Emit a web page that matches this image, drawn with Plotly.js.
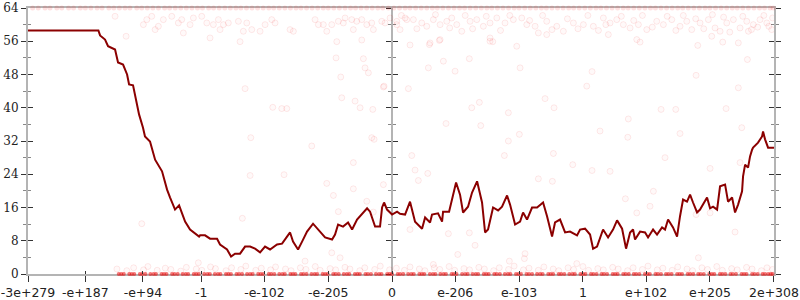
<!DOCTYPE html>
<html>
<head>
<meta charset="utf-8">
<script src="https://cdn.plot.ly/plotly-3.0.1.min.js"></script>
<style>html,body{margin:0;padding:0;background:#fff;}#chart{width:800px;height:300px;}</style>
</head>
<body>
<div id="chart"></div>
<script>
// x axis: signed log-magnitude position of a double (sign * (log10|v| + 308))
const xTickVals = [-587.48, -495, -402, -308, -206, -103, 0, 102, 205, 308, 410, 513, 616.3];
const xTickText = ["-3e+279", "-e+187", "-e+94", "-1", "-e-102", "-e-205", "0", "e-206", "e-103", "1", "e+102", "e+205", "2e+308"];

// moving-average line
const lineX = [-587.5,-473.9,-471.2,-463.2,-458.3,-447.0,-442.2,-434.1,-427.6,-424.4,-418.0,-411.5,-408.3,-401.9,-398.7,-390.6,-387.3,-382.4,-371.2,-363.1,-358.2,-350.2,-343.7,-334.0,-326.0,-321.1,-311.4,-309.8,-301.8,-293.7,-282.4,-277.6,-266.3,-259.8,-253.4,-245.3,-237.2,-229.1,-221.1,-213.0,-205.0,-196.9,-185.6,-177.5,-169.4,-164.6,-159.8,-151.7,-145.2,-137.2,-127.5,-119.4,-108.1,-96.8,-92.0,-87.1,-79.1,-71.0,-64.5,-56.5,-51.6,-40.3,-35.5,-27.4,-19.4,-16.1,-12.9,-8.1,0,8.1,12.9,21.0,29.0,37.1,48.4,53.3,61.3,64.5,74.2,80.7,82.3,92.0,103.3,109.7,114.6,122.6,129.1,137.2,145.2,150.1,154.9,163.0,171.1,177.5,185.6,190.4,198.5,206.6,211.4,217.8,225.9,234.0,243.7,250.1,258.2,263.0,271.1,279.2,287.2,298.5,303.4,311.4,319.5,324.4,330.8,335.6,340.5,348.6,356.6,363.1,371.2,377.6,384.1,388.9,392.1,400.2,408.3,413.1,421.2,427.6,435.7,440.5,445.4,453.4,459.9,464.7,469.6,476.0,480.9,485.7,492.2,497.0,508.3,513.2,518.0,524.5,529.3,537.4,542.2,548.7,553.5,558.4,564.8,566.4,569.7,574.5,577.7,581.0,582.6,590.6,597.1,598.7,601.9,606.8,616.3];
const lineY = [58.6,58.6,57.4,56.4,54.8,54.0,50.9,50.4,48.0,45.6,45.4,40.8,38.4,35.2,33.1,31.9,29.9,27.5,24.7,20.3,18.4,15.5,16.5,12.6,10.7,10.2,9.0,9.3,9.3,8.5,8.5,7.1,5.9,4.2,4.9,4.9,6.6,6.6,6.1,5.2,6.6,5.9,7.1,7.3,9.0,10.0,7.8,5.9,7.8,10.2,12.1,10.7,8.8,8.3,9.5,11.9,11.4,12.4,10.7,13.1,13.9,15.8,15.0,11.4,11.4,16.0,17.2,15.5,14.3,15.0,14.5,14.3,17.4,12.6,10.9,13.6,12.4,14.3,14.6,12.6,15.0,15.0,22.0,19.1,14.8,16.2,19.6,22.3,17.2,10.0,10.7,16.0,15.3,16.2,18.9,16.7,11.9,12.6,14.8,13.1,16.0,16.0,17.2,13.9,9.0,12.4,13.1,10.0,10.2,9.3,10.7,10.9,9.5,6.1,6.6,8.8,10.7,8.8,10.7,12.9,10.9,6.1,10.0,10.7,8.3,10.2,10.0,8.8,10.7,9.5,11.2,10.7,13.1,11.2,9.0,13.9,17.9,17.4,19.1,17.2,14.8,15.5,18.4,15.8,16.2,15.5,21.1,21.5,17.4,18.4,14.8,16.7,19.9,23.5,26.3,25.6,28.3,29.9,30.4,31.6,33.1,34.3,32.4,30.4,30.4];

// scattered individual samples (mid-field)
const scatX = [-237.2,-192.5,-178.0,-169.9,-228.0,-129.6,-229.1,-174.3,-241.6,-403.9,-90.4,-82.8,-81.2,-59.7,-51.6,-43.6,-38.2,-62.5,-32.8,-105.4,-94.7,-62.5,-40.8,-86.7,-30.2,-14.0,-14.0,-89.2,-48.9,-245.3,-293.7,-429.2,-312.6,-83.9,-97.3,-140.4,
 82.8,58.6,101.7,124.7,26.3,128.6,140.9,87.1,143.1,187.7,206.6,246.9,261.4,314.2,322.7,205.4,187.7,31.8,37.1,57.6,42.4,181.2,260.3,291.6,236.1,258.7,322.7,351.8,376.5,335.6,381.3,380.4,464.7,434.1,457.8,490.6,558.8,573.4,564.3,513.2,561.6,440.5,394.9,29.0,90.9,124.7,133.9,106.0,214.6,213.5,189.3,298.1,494.3,553.5,421.7,416.3,490.6,513.2,66.6,539.0,493.3,400.2,533.6,-46.3,-12.9,-31.1,-29.0,29.0,60.2,76.3,158.1,162.5];
const scatY = [44.6,40.1,39.8,39.8,32.8,30.8,23.7,23.9,13.4,12.1,52.0,47.4,42.4,41.6,40.0,49.6,48.4,26.8,32.8,21.8,18.9,20.5,17.5,15.0,14.9,21.5,45.0,55.9,56.3,55.9,56.8,57.2,2.7,3.9,5.1,3.1,
 51.2,49.6,48.8,51.8,44.6,40.0,41.3,36.2,35.7,38.8,49.6,42.2,40.0,45.2,48.7,33.6,32.0,28.5,25.0,24.2,22.5,28.5,29.0,26.3,22.9,22.3,24.9,24.7,18.1,34.4,37.3,32.9,33.8,39.6,39.6,47.8,44.8,51.6,35.2,25.4,26.8,28.0,14.7,10.7,9.7,9.9,6.9,4.7,4.9,3.7,3.1,2.5,3.9,10.1,19.9,16.3,14.3,14.7,2.3,39.8,55.0,55.8,55.8,51.8,45.2,39.6,32.4,55.1,55.2,56.2,56.8,55.9];

// band of samples just below the top (around 58-62)
const topBandX = [-447.0,-401.3,-395.8,-387.8,-382.4,-377.1,-369.1,-355.5,-344.9,-339.4,-336.8,-326.0,-320.6,-307.1,-299.0,-288.4,-280.3,-277.6,-272.2,-264.2,-248.0,-240.0,-234.5,-226.4,-213.0,-204.9,-194.1,-188.8,-164.6,-159.3,-124.3,-118.9,-110.9,-105.4,-97.3,-86.7,-78.6,-75.8,-65.0,-62.5,-57.0,-48.9,-40.8,-32.8,-30.2,-16.6,-11.3,-3.2,7.6,12.9,23.7,
 7.6,21.0,34.4,47.9,56.0,66.6,77.5,88.3,96.3,104.4,112.5,125.9,136.7,147.3,158.1,169.0,182.3,195.7,209.3,217.4,230.8,236.1,249.6,265.8,276.4,292.6,308.7,324.8,341.0,351.8,362.6,373.2,384.1,397.5,411.0,427.1,437.8,451.4,464.7,475.6,483.6,497.0,510.4,521.2,529.3,540.1,550.8,561.6,572.4,583.0,593.8,604.7,612.7,
 61.3,77.5,158.1,201.2,249.6,349.0,394.9,515.9,558.8,575.0,
 15,40,70,93,118,130,152,175,190,222,243,258,283,300,316,333,345,370,390,404,420,444,458,470,490,503,517,535,545,566,580,590,600,608,614];
const topBandY = [62.0,60.0,61.2,62.0,58.8,59.6,61.2,62.0,60.4,61.2,58.0,60.0,61.6,62.0,60.4,60.0,61.2,58.8,60.0,60.4,60.8,58.4,60.4,58.8,58.4,60.0,61.2,60.4,58.8,58.4,61.2,60.0,60.0,58.4,60.0,60.8,60.4,61.6,61.2,58.8,60.8,61.2,60.0,60.4,58.8,60.8,60.4,61.6,60.0,58.8,61.2,
 60.8,61.6,61.2,60.4,59.6,61.2,60.0,60.8,61.6,60.0,58.4,60.8,61.2,59.6,60.4,61.6,60.4,61.2,61.6,60.0,59.6,58.0,60.8,59.6,58.4,60.4,60.0,59.6,61.6,60.4,61.2,60.0,59.2,60.0,58.8,60.8,60.0,61.2,59.6,60.8,58.8,60.4,61.2,59.2,58.4,60.4,61.2,59.2,60.8,60.0,61.2,60.4,58.8,
 55.6,56.4,56.0,54.8,57.6,57.6,56.4,57.2,55.6,58.4,
 62.2,59.0,62.4,59.2,62.2,59.0,62.0,58.6,62.2,61.0,62.2,58.8,61.4,59.0,62.2,58.6,60.0,62.0,61.0,62.2,59.4,62.0,58.6,62.2,61.4,59.0,62.4,61.8,58.2,62.0,58.8,59.4,62.2,59.6,61.6];

// band of samples just above zero (around 1)
const lowBandX = [-444,-428,-417,-401,-394,-379,-366,-357,-341,-332,-316,-307,-293,-285,-268,-259,-244,-236,-220,-211,-196,-188,-172,-163,-148,-139,-124,-116,-100,-91,-76,-68,-52,-44,-28,-19,-4,7,20,29,44,53,68,77,92,101,116,125,140,149,164,173,188,197,212,221,236,245,260,269,284,293,308,317,332,341,356,365,380,389,404,413,428,437,452,461,476,485,500,509,524,533,548,557,572,581,596,605,614];
const lowBandY = [1.2,0.8,1.5,1.0,1.8,0.9,1.4,1.1,0.7,1.6,1.2,0.9,1.7,1.3,0.8,1.5,1.1,1.9,0.9,1.4,1.0,1.7,1.2,0.8,1.5,1.1,1.8,0.9,1.3,1.0,1.6,1.2,0.8,1.5,1.1,1.9,1.0,1.4,0.9,1.7,1.2,0.8,1.5,1.1,1.8,0.9,1.3,1.0,1.6,1.2,0.8,1.5,1.1,1.9,1.0,1.4,0.9,1.7,1.2,0.8,1.5,1.1,1.8,0.9,1.3,1.0,1.6,1.2,0.8,1.5,1.1,1.9,1.0,1.4,0.9,1.7,1.2,0.8,1.5,1.1,1.8,0.9,1.3,1.0,1.6,1.2,0.8,1.5,1.1];

// samples sitting exactly at 64 and at 0
const top64X = [-580,-571,-560,-552,-541,-533,-522,-514,-503,-495,-486,-476,-468,-457,-449,-440,-431,-423,-412,-404,-395,-386,-377,-367,-359,-350,-341,-332,-323,-314,-306,-296,-288,-279,-270,-261,-252,-244,-235,-226,-217,-208,-199,-191,-182,-173,-164,-155,-147,-138,-129,-120,-111,-103,-94,-85,-76,-67,-59,-50,-41,-32,-23,-15,-6,3,12,21,29,38,47,56,65,73,82,91,100,109,117,126,135,144,153,161,170,179,188,197,205,214,223,232,241,249,258,267,276,285,293,302,311,320,329,337,346,355,364,373,381,390,399,408,417,425,434,443,452,461,469,478,487,496,505,513,522,531,540,549,557,566,575,584,593,601,610,615];
const zeroX = [-441,-433,-424,-416,-407,-398,-390,-381,-372,-364,-355,-346,-338,-329,-320,-312,-303,-294,-286,-277,-268,-260,-251,-242,-234,-225,-216,-208,-199,-190,-182,-173,-164,-156,-147,-138,-130,-121,-112,-104,-95,-86,-78,-69,-60,-52,-43,-34,-26,-17,-8,0,9,18,26,35,44,52,61,70,78,87,96,104,113,122,130,139,148,156,165,174,182,191,200,208,217,226,234,243,252,260,269,278,286,295,304,312,321,330,338,347,356,364,373,382,390,399,408,416,425,434,442,451,460,468,477,486,494,503,512,520,529,538,546,555,564,572,581,590,598,607,614,
 -437,-420,-403,-385,-368,-351,-333,-316,-298,-281,-264,-247,-229,-212,-195,-177,-160,-143,-125,-108,-91,-73,-56,-39,-21,-4,13,31,48,66,83,100,118,135,152,169,187,204,221,239,256,273,291,308,325,342,360,377,394,412,429,446,464,481,498,516,533,550,568,585,602,611];

const XR = [-587.5, 616.35];
const YR = [0, 64];

const faint = {size: 6, color: 'rgba(255,0,0,0.025)', line: {color: 'rgba(235,0,0,0.085)', width: 1}};

const traces = [
  {x: scatX, y: scatY, type: 'scatter', mode: 'markers', marker: faint, hoverinfo: 'skip'},
  {x: topBandX, y: topBandY, type: 'scatter', mode: 'markers', marker: faint, hoverinfo: 'skip'},
  {x: lowBandX, y: lowBandY, type: 'scatter', mode: 'markers', marker: faint, hoverinfo: 'skip'},
  {x: top64X, y: top64X.map(() => 64), type: 'scatter', mode: 'markers', cliponaxis: false,
   marker: {size: 5, color: 'rgba(255,0,0,0.12)', line: {width: 0}}, hoverinfo: 'skip'},
  {x: zeroX, y: zeroX.map(() => 0), type: 'scatter', mode: 'markers', cliponaxis: false,
   marker: {size: 4, color: 'rgba(235,10,10,0.55)', line: {width: 0}}, hoverinfo: 'skip'},
  {x: lineX, y: lineY, type: 'scatter', mode: 'lines', line: {color: '#8b0000', width: 2}, hoverinfo: 'skip'},
  // carriers for the overlay axes
  {x: [null], y: [null], xaxis: 'x2', yaxis: 'y', type: 'scatter', mode: 'markers', hoverinfo: 'skip'},
  {x: [null], y: [null], xaxis: 'x', yaxis: 'y2', type: 'scatter', mode: 'markers', hoverinfo: 'skip'},
  {x: [null], y: [null], xaxis: 'x', yaxis: 'y3', type: 'scatter', mode: 'markers', hoverinfo: 'skip'},
  {x: [null], y: [null], xaxis: 'x', yaxis: 'y4', type: 'scatter', mode: 'markers', hoverinfo: 'skip'}
];

const axisGrey = '#b4b4b4';
const tickDark = '#333333';
const yFont = {family: 'DejaVu Serif', size: 12, color: '#222'};
const xFont = {family: 'DejaVu Sans', size: 12.5, color: '#222'};

function yAx(extra) {
  return Object.assign({
    range: YR, tickmode: 'linear', tick0: 0, dtick: 8, showgrid: false, zeroline: false,
    tickcolor: tickDark, tickwidth: 1, ticklen: 5, layer: 'below traces'
  }, extra);
}

const layout = {
  width: 800, height: 300,
  margin: {l: 28, r: 26, t: 8, b: 26, pad: 0},
  paper_bgcolor: '#ffffff', plot_bgcolor: '#ffffff',
  showlegend: false,
  xaxis: {
    range: XR, tickmode: 'array', tickvals: xTickVals, ticktext: xTickText,
    ticks: 'outside', ticklen: 6, tickwidth: 1, tickcolor: tickDark,
    showline: true, linecolor: axisGrey, linewidth: 2, mirror: true,
    showgrid: false, zeroline: false, layer: 'below traces', tickfont: xFont
  },
  xaxis2: {
    overlaying: 'x', anchor: 'y', range: XR, tickmode: 'array', tickvals: xTickVals,
    ticks: 'inside', ticklen: 3, tickwidth: 1, tickcolor: tickDark,
    showticklabels: false, showline: false, showgrid: false, zeroline: false
  },
  yaxis: yAx({
    ticks: 'outside', showline: true, linecolor: axisGrey, linewidth: 2, mirror: 'ticks',
    tickfont: yFont,
    minor: {tick0: 4, dtick: 8, ticks: 'outside', ticklen: 3, tickcolor: '#888', tickwidth: 1}
  }),
  yaxis2: yAx({
    overlaying: 'y', anchor: 'x', ticks: 'inside', mirror: 'ticks', showline: false, showticklabels: false,
    minor: {tick0: 4, dtick: 8, ticks: 'inside', ticklen: 3, tickcolor: '#888', tickwidth: 1}
  }),
  yaxis3: yAx({
    overlaying: 'y', anchor: 'free', position: 587.5 / (616.35 + 587.5), side: 'left',
    ticks: 'outside', showline: true, linecolor: axisGrey, linewidth: 2, showticklabels: false,
    minor: {tick0: 4, dtick: 8, ticks: 'outside', ticklen: 3, tickcolor: '#888', tickwidth: 1}
  }),
  yaxis4: yAx({
    overlaying: 'y', anchor: 'free', position: 587.5 / (616.35 + 587.5), side: 'left',
    ticks: 'inside', showline: false, showticklabels: false,
    minor: {tick0: 4, dtick: 8, ticks: 'inside', ticklen: 3, tickcolor: '#888', tickwidth: 1}
  })
};

Plotly.newPlot('chart', traces, layout, {staticPlot: true, displayModeBar: false});
</script>
</body>
</html>
